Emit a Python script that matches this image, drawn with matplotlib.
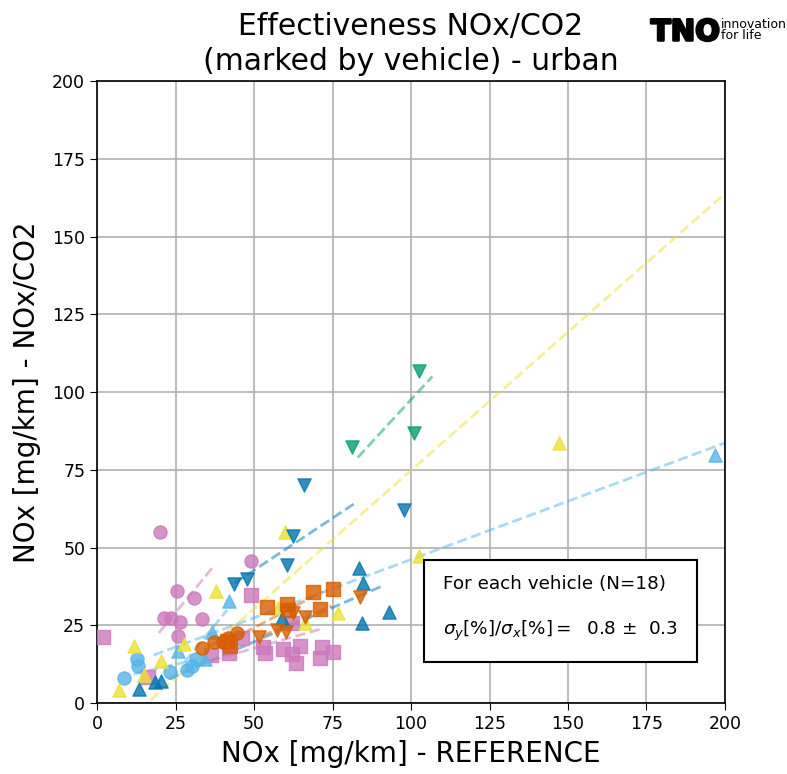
import matplotlib
matplotlib.use('Agg')
import matplotlib.pyplot as plt
import matplotlib.patheffects as pe
import numpy as np

# seaborn colorblind palette entries used for the vehicles
c_blue = '#0173b2'
c_green = '#029e73'
c_red = '#d55e00'
c_pink = '#cc78bc'
c_yellow = '#ece133'
c_lblue = '#56b4e9'

# NOx [mg/km] reference (x) vs NOx/CO2 estimate (y), one set per vehicle
green_v_x = [81.2, 101.0, 102.5]
green_v_y = [82.3, 86.8, 106.8]

blue_v_x = [43.6, 47.8, 60.5, 62.4, 65.9, 97.8]
blue_v_y = [38.3, 39.9, 44.4, 53.7, 70.1, 62.1]

blue_up_x = [13.4, 18.5, 20.4, 58.9, 83.4, 84.4, 84.7, 93.0]
blue_up_y = [4.4, 6.6, 7.2, 27.3, 43.4, 25.7, 38.6, 29.3]

yellow_up_x = [7.0, 11.8, 15.0, 20.4, 27.7, 37.9, 57.6, 59.9, 66.2, 76.6, 102.5, 147.1]
yellow_up_y = [4.2, 18.3, 9.0, 13.5, 19.0, 36.0, 30.5, 55.0, 25.7, 29.0, 47.3, 83.6]

lblue_up_x = [25.8, 34.4, 36.6, 42.0]
lblue_up_y = [16.7, 14.1, 22.8, 32.8]

lblue_up2_x = [196.8]
lblue_up2_y = [79.7]

lblue_o_x = [8.6, 12.7, 13.1, 23.2, 28.7, 30.3, 31.5]
lblue_o_y = [8.0, 14.1, 12.0, 10.0, 10.6, 12.0, 14.1]

red_s_x = [41.4, 42.4, 54.0, 60.5, 60.8, 68.9, 71.0, 75.2]
red_s_y = [19.8, 18.2, 30.9, 31.8, 29.9, 35.6, 30.2, 36.6]

red_o_x = [33.4, 37.3, 40.1, 41.7, 44.6]
red_o_y = [17.7, 19.6, 19.6, 20.9, 22.5]

red_v_x = [51.6, 57.3, 60.2, 62.4, 66.2, 83.8]
red_v_y = [21.2, 23.5, 22.8, 28.9, 27.7, 34.1]

pink_o_x = [20.1, 21.3, 23.6, 25.5, 25.8, 26.4, 30.9, 33.4, 49.0]
pink_o_y = [55.0, 27.4, 27.4, 36.0, 21.5, 26.0, 33.8, 27.0, 45.7]

pink_s_x = [1.9, 16.2, 36.2, 42.0, 46.2, 49.0, 52.9, 53.5, 59.2, 62.1, 62.1, 63.4, 64.6, 71.0, 71.7, 75.2]
pink_s_y = [21.2, 8.4, 15.6, 16.0, 20.9, 34.7, 18.0, 16.1, 17.4, 15.8, 25.7, 12.9, 18.3, 14.5, 18.0, 16.4]

# fit lines of vehicles that also have points outside the plotted range
yellow_fit_x = [10.0, 230.0]
yellow_fit_y = [-5.3, 190.5]
lblue_fit_x = [18.0, 230.0]
lblue_fit_y = [15.4, 94.9]

ratio_mean = 0.8
ratio_std = 0.3
n_vehicles = 18

vehicles = [
    (pink_s_x, pink_s_y, c_pink, 's', None),
    (pink_o_x, pink_o_y, c_pink, 'o', None),
    (lblue_o_x, lblue_o_y, c_lblue, 'o', None),
    (lblue_up_x, lblue_up_y, c_lblue, '^', None),
    (lblue_up2_x, lblue_up2_y, c_lblue, '^', (lblue_fit_x, lblue_fit_y)),
    (yellow_up_x, yellow_up_y, c_yellow, '^', (yellow_fit_x, yellow_fit_y)),
    (blue_up_x, blue_up_y, c_blue, '^', None),
    (red_o_x, red_o_y, c_red, 'o', None),
    (red_s_x, red_s_y, c_red, 's', None),
    (red_v_x, red_v_y, c_red, 'v', None),
    (blue_v_x, blue_v_y, c_blue, 'v', None),
    (green_v_x, green_v_y, c_green, 'v', None),
]


def rma_line(x, y):
    #reduced major axis line through the means, drawn over mean +- std of x
    x = np.asarray(x)
    y = np.asarray(y)
    sx = x.std(ddof=1)
    sy = y.std(ddof=1)
    slope = np.sign(np.corrcoef(x, y)[0, 1]) * sy / sx
    xs = np.array([x.mean() - sx, x.mean() + sx])
    ys = y.mean() + slope * (xs - x.mean())
    return xs, ys


fig = plt.figure(figsize=(7.87, 7.74), dpi=100)
ax = fig.add_axes([0.1233, 0.0917, 0.7979, 0.8036])

for x, y, col, mk, fit in vehicles:
    ax.scatter(x, y, s=90, color=col, marker=mk, alpha=0.8, zorder=3)
    if fit is None:
        fx, fy = rma_line(x, y)
    else:
        fx, fy = fit
    ax.plot(fx, fy, '--', color=col, linewidth=2, alpha=0.5, zorder=2)

ax.set_xlim(0, 200)
ax.set_ylim(0, 200)
ax.set_xticks(np.arange(0, 201, 25))
ax.set_yticks(np.arange(0, 201, 25))
ax.tick_params(labelsize=12.5, length=5)
ax.grid(True, color='#b0b0b0', linewidth=1.2)
ax.set_axisbelow(True)
for sp in ax.spines.values():
    sp.set_linewidth(1.2)

ax.set_xlabel('NOx [mg/km] - REFERENCE', fontsize=20, labelpad=5)
ax.set_ylabel('NOx [mg/km] - NOx/CO2', fontsize=20, labelpad=8)
ax.set_title('Effectiveness NOx/CO2\n(marked by vehicle) - urban', fontsize=21.5, pad=8, linespacing=1.25)

boxtxt = 'For each vehicle (N=%d)\n\n' % n_vehicles
boxtxt += r'$\sigma_y[\%]/\sigma_x[\%] = $' + ' %4.1f $\\pm$ %4.1f' % (ratio_mean, ratio_std)
ax.text(0.551, 0.097, boxtxt, transform=ax.transAxes, fontsize=13.2, va='bottom', ha='left',
        linespacing=1.25, zorder=5,
        bbox=dict(boxstyle='square,pad=1.05', facecolor='white', edgecolor='black', linewidth=1.5))

# TNO logo
fig.text(0.827, 0.958, 'TNO', fontsize=21, fontweight='black', va='center', ha='left',
         path_effects=[pe.withStroke(linewidth=1.8, foreground='black')])
fig.text(0.916, 0.961, 'innovation\nfor life', fontsize=9, va='center', ha='left', linespacing=0.85)

plt.savefig('out.png', dpi=100)
